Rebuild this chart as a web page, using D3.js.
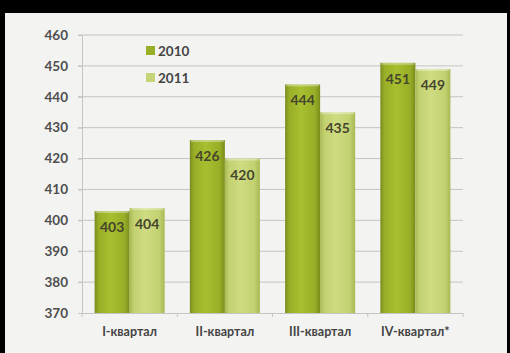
<!DOCTYPE html>
<html lang="ru">
<head>
<meta charset="utf-8">
<script src="https://d3js.org/d3.v7.min.js"></script>
<style>
  body { margin: 0; background: #000; }
  svg { display: block; }
  text { font-family: Lato, "Open Sans", sans-serif; font-weight: bold; }
</style>
</head>
<body>
<script>
// data
const categories = ["I-квартал", "II-квартал", "III-квартал", "IV-квартал*"];
const series = ["2010", "2011"];
const values2010 = [403, 426, 444, 451];
const values2011 = [404, 420, 435, 449];
const yTicks = [370, 380, 390, 400, 410, 420, 430, 440, 450, 460];

const W = 510, H = 353;
const mLeft = 82, mRight = 463, mTop = 35, mBottom = 313;

const svg = d3.select("body").append("svg").attr("width", W).attr("height", H);

// page background with black scan borders
svg.append("rect").attr("width", W).attr("height", H).attr("fill", "#000");
svg.append("rect").attr("x", 5).attr("y", 13).attr("width", 502).attr("height", H - 13).attr("fill", "#f3f3f1");

const defs = svg.append("defs");
function barGrad(id, edge, mid, light) {
  const g = defs.append("linearGradient").attr("id", id).attr("x1", 0).attr("x2", 1).attr("y1", 0).attr("y2", 0);
  g.append("stop").attr("offset", "0%").attr("stop-color", edge);
  g.append("stop").attr("offset", "12%").attr("stop-color", mid);
  g.append("stop").attr("offset", "45%").attr("stop-color", light);
  g.append("stop").attr("offset", "85%").attr("stop-color", mid);
  g.append("stop").attr("offset", "100%").attr("stop-color", edge);
}
barGrad("g2010", "#7a8c1c", "#98ae27", "#a8bf30");
barGrad("g2011", "#a9b852", "#c2d170", "#cfdc82");
const colors = { "2010": "url(#g2010)", "2011": "url(#g2011)" };
const swatch = { "2010": "#98b028", "2011": "#c6d478" };

const x = d3.scaleBand().domain(categories).range([mLeft, mRight]).paddingInner(0).paddingOuter(0);
const xs = d3.scaleBand().domain(series).range([0, x.bandwidth()]).paddingInner(0).paddingOuter(0.36);
const y = d3.scaleLinear().domain([370, 460]).range([mBottom, mTop]);

// gridlines
svg.append("g").selectAll("line").data(yTicks.slice(1)).join("line")
  .attr("x1", mLeft - 4).attr("x2", mRight)
  .attr("y1", d => y(d)).attr("y2", d => y(d))
  .attr("stroke", "#c4c4c4").attr("stroke-width", 1);

// y axis
const yAxis = svg.append("g").attr("transform", `translate(${mLeft},0)`)
  .call(d3.axisLeft(y).tickValues(yTicks).tickSize(4).tickPadding(10));
yAxis.select(".domain").attr("stroke", "#c4c4c4");
yAxis.selectAll(".tick line").attr("stroke", "#c4c4c4");
yAxis.selectAll("text").attr("font-size", 13.5).attr("fill", "#4e4e4e");

// x axis
const xAxis = svg.append("g").attr("transform", `translate(0,${mBottom})`)
  .call(d3.axisBottom(x).tickSize(0).tickPadding(14));
xAxis.select(".domain").attr("stroke", "#c4c4c4");
xAxis.selectAll("text").attr("font-size", 12.5).attr("fill", "#444");
svg.append("g").selectAll("line").data(categories.concat([null])).join("line")
  .attr("x1", (d, i) => mLeft + i * x.bandwidth()).attr("x2", (d, i) => mLeft + i * x.bandwidth())
  .attr("y1", mBottom).attr("y2", mBottom + 4).attr("stroke", "#c4c4c4");

// bars
const rows = [];
categories.forEach((c, i) => {
  rows.push({ cat: c, s: "2010", v: values2010[i] });
  rows.push({ cat: c, s: "2011", v: values2011[i] });
});
const bars = svg.append("g").selectAll("g").data(rows).join("g")
  .attr("transform", d => `translate(${x(d.cat) + xs(d.s)},0)`);
bars.append("rect")
  .attr("y", d => y(d.v)).attr("width", xs.bandwidth()).attr("height", d => mBottom - y(d.v))
  .attr("fill", d => colors[d.s]);
// top highlight
bars.append("rect")
  .attr("x", 1).attr("y", d => y(d.v)).attr("width", xs.bandwidth() - 2).attr("height", 2)
  .attr("fill", "#fff").attr("opacity", 0.35);
bars.append("text")
  .attr("x", xs.bandwidth() / 2).attr("y", d => y(d.v) + 21)
  .attr("text-anchor", "middle").attr("font-size", 14).attr("fill", "#45452c")
  .text(d => d.v);

// legend
const legend = svg.append("g").selectAll("g").data(series).join("g")
  .attr("transform", (d, i) => `translate(146,${46 + i * 27})`);
legend.append("rect").attr("width", 9).attr("height", 9).attr("fill", d => swatch[d]);
legend.append("text").attr("x", 12).attr("y", 9.5).attr("font-size", 13.5).attr("fill", "#444").text(d => d);
</script>
</body>
</html>
